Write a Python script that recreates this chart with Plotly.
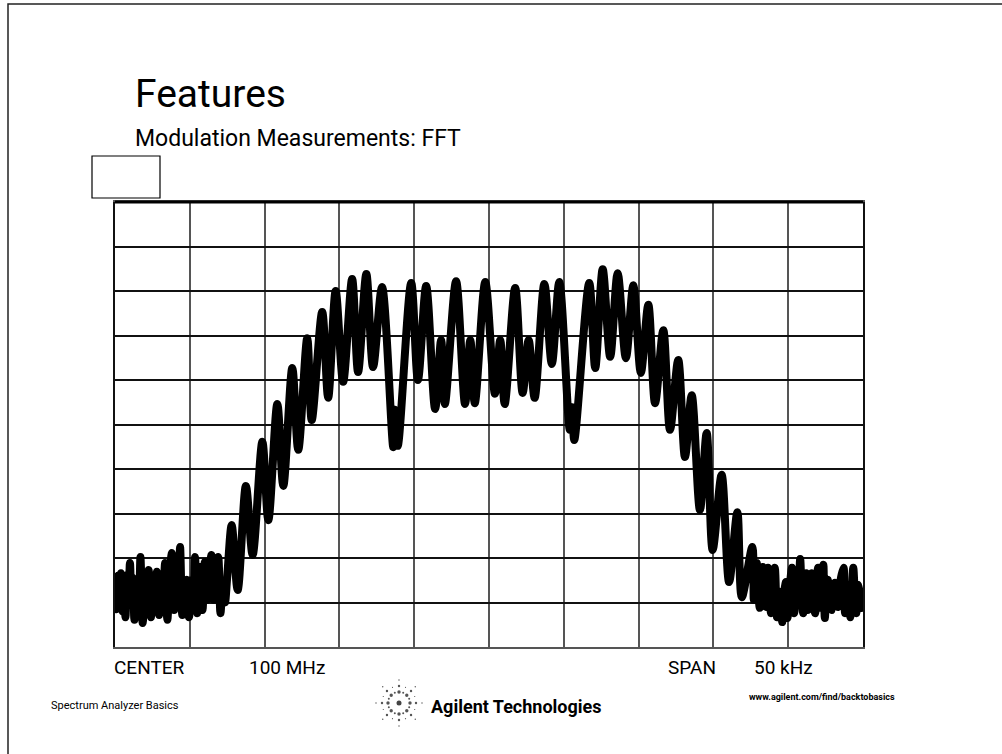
import math
import plotly.graph_objects as go

# Spectrum trace: offset from 100 MHz centre (kHz) and displayed level (dB, 10 dB/div)
noise_lo_khz = [-25.0, -24.9, -24.8, -24.7, -24.6, -24.5, -24.4, -24.3, -24.2, -24.1,
                -24.0, -23.9, -23.8, -23.7, -23.55, -23.4, -23.3, -23.15, -23.0, -22.9,
                -22.75, -22.6, -22.45, -22.3, -22.2, -22.05, -21.95, -21.8, -21.65, -21.5,
                -21.35, -21.2, -21.05, -20.9, -20.75, -20.65, -20.5, -20.35, -20.2, -20.05,
                -19.9, -19.75, -19.65, -19.5, -19.4, -19.3, -19.15, -19.0, -18.85, -18.7,
                -18.55, -18.4, -18.25, -18.1, -17.95, -17.8, -17.65, -17.5]
noise_lo_db = [-86.7, -91.5, -84.0, -88.5, -83.4, -92.0, -85.0, -93.3, -83.8, -89.0,
               -81.1, -90.5, -84.5, -93.9, -86.0, -91.0, -79.8, -94.6, -85.0, -90.0,
               -82.7, -93.3, -86.5, -91.5, -83.1, -92.8, -85.0, -89.5, -81.1, -93.9,
               -84.0, -78.9, -91.7, -85.5, -90.0, -77.5, -92.8, -86.0, -84.9, -93.3,
               -85.0, -90.5, -79.8, -92.4, -86.5, -82.0, -91.7, -80.9, -89.4, -84.0,
               -79.3, -89.4, -83.5, -79.8, -92.4, -86.0, -90.0, -84.3]

band_khz = [-17.2, -16.8, -16.25, -15.8, -15.15, -14.75, -14.15, -13.75, -13.15, -12.75,
            -12.15, -11.85, -11.15, -10.75, -10.25, -9.75, -9.15, -8.75, -8.2, -7.75,
            -7.15, -6.4, -6.3, -6.1, -5.2, -4.75, -4.2, -3.6, -3.2, -2.95,
            -2.2, -1.6, -1.25, -0.95, -0.25, 0.4, 0.75, 1.05, 1.75, 2.25,
            2.65, 3.05, 3.7, 4.2, 4.7, 5.4, 5.55, 5.7, 6.7, 7.1,
            7.6, 8.1, 8.6, 9.15, 9.65, 10.15, 10.65, 11.1, 11.65, 12.1,
            12.65, 13.1, 13.55, 14.1, 14.55, 14.95, 15.55, 16.05, 16.6, 16.9,
            17.6]
band_db = [-72.6, -87.2, -63.8, -79.3, -53.9, -71.5, -45.4, -63.8, -37.3, -55.7,
           -30.6, -49.0, -24.7, -44.0, -20.0, -40.4, -17.3, -38.2, -16.2, -37.1,
           -19.1, -55.1, -46.7, -54.8, -18.2, -40.0, -18.9, -46.5, -31.0, -45.4,
           -17.8, -45.4, -31.0, -45.2, -18.0, -43.1, -31.0, -45.4, -19.3, -42.9,
           -31.0, -44.0, -18.4, -36.4, -18.0, -51.2, -46.1, -53.5, -18.2, -37.3,
           -15.1, -34.8, -16.0, -35.1, -18.7, -38.4, -23.1, -45.2, -28.8, -51.2,
           -35.5, -57.3, -43.4, -69.2, -51.9, -78.2, -61.3, -85.4, -69.7, -88.8,
           -77.5]

noise_hi_khz = [17.7, 17.8, 17.9, 18.0, 18.1, 18.2, 18.3, 18.4, 18.5, 18.6,
                18.65, 18.75, 18.85, 18.95, 19.1, 19.2, 19.25, 19.35, 19.45, 19.55,
                19.6, 19.7, 19.85, 19.9, 19.95, 20.1, 20.25, 20.3, 20.4, 20.5,
                20.6, 20.7, 20.8, 20.9, 21.0, 21.1, 21.2, 21.25, 21.3, 21.45,
                21.55, 21.65, 21.8, 21.9, 22.0, 22.1, 22.15, 22.25, 22.35, 22.4,
                22.45, 22.55, 22.65, 22.75, 22.9, 23.0, 23.15, 23.25, 23.35, 23.5,
                23.7, 23.75, 23.8, 23.9, 24.0, 24.1, 24.15, 24.25, 24.35, 24.45,
                24.55, 24.65, 24.75, 24.85, 24.95]
noise_hi_db = [-89.4, -84.0, -81.1, -88.0, -91.2, -85.0, -82.0, -89.5, -91.0, -84.5,
               -82.2, -88.0, -92.4, -86.0, -82.2, -90.0, -93.3, -87.5, -89.4, -92.0,
               -94.4, -88.5, -85.4, -91.0, -93.5, -86.5, -82.2, -88.0, -92.4, -86.0,
               -82.7, -87.0, -80.2, -88.0, -92.4, -86.5, -83.4, -88.5, -91.7, -86.0,
               -83.4, -89.0, -92.4, -85.5, -82.2, -88.0, -91.2, -86.0, -81.5, -89.0,
               -93.5, -87.5, -84.9, -89.5, -91.7, -86.0, -85.6, -90.5, -91.0, -85.0,
               -82.2, -88.0, -92.4, -87.0, -86.1, -90.5, -93.3, -87.0, -82.2, -88.0,
               -92.4, -86.0, -87.2, -90.0, -92.1]

screen_labels = ["CENTER", "100 MHz", "SPAN", "50 kHz"]

W, H = 1002, 754
L, R, T, B = 115, 863, 202, 647   # graticule edges in page pixels
FONT = "Roboto, Liberation Sans, sans-serif"


def px(x, y):
    """Page pixel -> paper coordinates of the graticule."""
    return (x - L) / (R - L), (B - y) / (B - T)


freq = noise_lo_khz + band_khz + noise_hi_khz
level = noise_lo_db + band_db + noise_hi_db

fig = go.Figure()
fig.add_trace(go.Scatter(
    x=freq, y=level, mode="lines",
    line=dict(color="black", width=8, shape="spline", smoothing=0.9),
    hoverinfo="skip", showlegend=False,
))

fig.update_xaxes(range=[-25, 25], dtick=5, tick0=-25, showticklabels=False, ticks="",
                 showgrid=True, gridcolor="#555555", gridwidth=1.5, zeroline=False,
                 showline=True, linecolor="#555555", linewidth=1.5, mirror=True, fixedrange=True)
fig.update_yaxes(range=[-100, 0], dtick=10, tick0=-100, showticklabels=False, ticks="",
                 showgrid=True, gridcolor="#111111", gridwidth=1.5, zeroline=False,
                 showline=True, linecolor="#111111", linewidth=1.5, mirror=True, fixedrange=True)

shapes = []
# page frame
x0, y0 = px(8, 4)
x1, y1 = px(1012, 764)
shapes.append(dict(type="rect", xref="paper", yref="paper", x0=x0, y0=y1, x1=x1, y1=y0,
                   line=dict(color="#222222", width=1.5), layer="below"))
# heavy top edge of the screen
shapes.append(dict(type="line", xref="paper", yref="paper", x0=0, x1=1, y0=1, y1=1,
                   line=dict(color="black", width=3)))
# empty marker box above the screen
bx0, by0 = px(92, 156)
bx1, by1 = px(160, 198)
shapes.append(dict(type="rect", xref="paper", yref="paper", x0=bx0, y0=by1, x1=bx1, y1=by0,
                   line=dict(color="black", width=1.2)))

# starburst logo: dots on radial spokes
cx, cy = 399, 703
for k in range(16):
    ang = k * math.pi / 8
    spoke = 3 if k % 2 == 0 else 2
    for j in range(1, spoke + 1):
        r = 5 + j * 6
        rad = 2.2 - 0.5 * j if k % 2 == 0 else 1.4 - 0.4 * j
        rad = max(rad, 0.6)
        dx, dy = cx + r * math.cos(ang), cy + r * math.sin(ang)
        ax0, ay0 = px(dx - rad, dy - rad)
        ax1, ay1 = px(dx + rad, dy + rad)
        shapes.append(dict(type="circle", xref="paper", yref="paper", x0=ax0, y0=ay1, x1=ax1, y1=ay0,
                           fillcolor="#555555", line=dict(width=0)))
cr0, crt0 = px(cx - 2.5, cy - 2.5)
cr1, crt1 = px(cx + 2.5, cy + 2.5)
shapes.append(dict(type="circle", xref="paper", yref="paper", x0=cr0, y0=crt1, x1=cr1, y1=crt0,
                   fillcolor="#444444", line=dict(width=0)))

annotations = []


def text(s, x, y, size, anchor="left", bold=False, family=FONT, color="black"):
    ax, ay = px(x, y)
    annotations.append(dict(text=f"<b>{s}</b>" if bold else s, x=ax, y=ay, xref="paper", yref="paper",
                            xanchor=anchor, yanchor="middle", showarrow=False,
                            font=dict(family=family, size=size, color=color)))


text("Features", 133, 94, 39)
text("Modulation Measurements: FFT", 133, 138, 23)
label_pos = [(112, 667), (247, 667), (666, 667), (752, 667)]
for s, (lx, ly) in zip(screen_labels, label_pos):
    text(s, lx, ly, 19)
text("Spectrum Analyzer Basics", 49, 705, 11)
text("Agilent Technologies", 429, 706, 18, bold=True)
text("www.agilent.com/find/backtobasics", 747, 697, 9, bold=True)

fig.update_layout(
    width=W, height=H,
    margin=dict(l=L, r=W - R, t=T, b=H - B),
    paper_bgcolor="white", plot_bgcolor="white",
    shapes=shapes, annotations=annotations,
    showlegend=False,
)

fig.write_html("out.html", config={"displayModeBar": False})
